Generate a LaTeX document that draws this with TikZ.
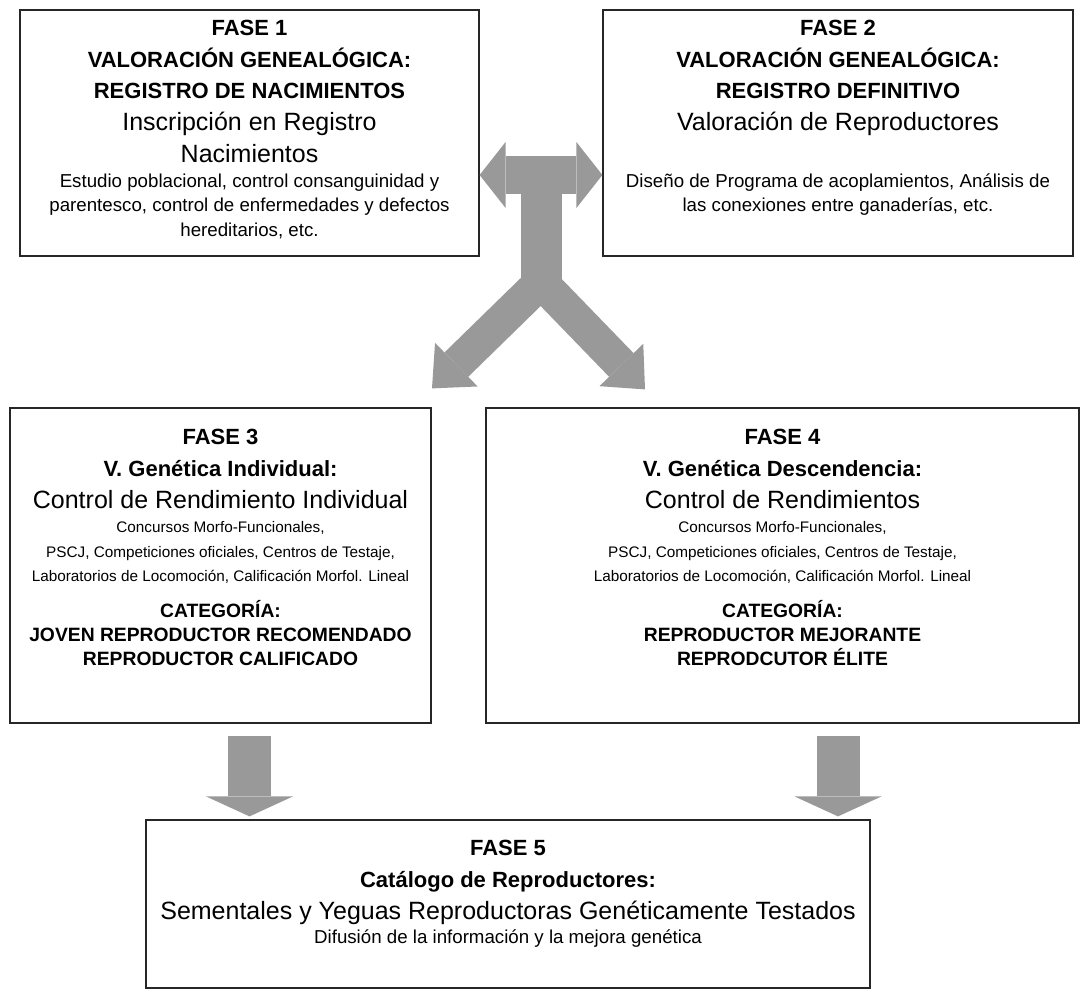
\documentclass[tikz,border=0pt]{standalone}
\usepackage{fontspec}
\setmainfont{Liberation Sans}
\usepackage{tikz}
\usetikzlibrary{arrows.meta,positioning,calc}

\definecolor{flechagris}{RGB}{153,153,153}
\newcommand{\espacios}{\spaceskip=0pt\xspaceskip=0pt\relax}
\newcommand{\fase}[1]{{\fontsize{22}{31.5}\bfseries\selectfont\espacios #1\par}}
\newcommand{\grande}[1]{{\fontsize{25}{32}\selectfont\espacios #1\par}}
\newcommand{\media}[1]{{\fontsize{18.7}{24.5}\selectfont\espacios #1\par}}
\newcommand{\chica}[1]{{\fontsize{15.3}{24.5}\selectfont\espacios #1\par}}
\newcommand{\categ}[1]{{\fontsize{19.3}{24}\bfseries\selectfont\espacios #1\par}}

\begin{document}
\begin{tikzpicture}[x=1pt, y=-1pt,
    caja/.style={draw=black!85, line width=1.2pt, inner sep=0pt},
    texto/.style={inner sep=0pt, align=flush center},
    doble/.style={draw=flechagris, line width=38pt,
      arrows={Triangle[width=66pt,length=26pt,line width=0pt]-Triangle[width=66pt,length=26pt,line width=0pt]}},
    tronco/.style={draw=flechagris, line width=41pt},
    rama/.style={draw=flechagris, line width=34pt,
      arrows={-Triangle[width=61pt,length=34pt,line width=0pt]}},
    baja/.style={draw=flechagris, line width=43pt,
      arrows={-Triangle[width=87pt,length=20pt,line width=0pt]}}]
  \useasboundingbox (0,0) rectangle (1082,990);

  \node[caja, minimum width=459pt, minimum height=246pt] (f1) at (249.5,133) {};
  \node[caja, minimum width=470pt, minimum height=246pt] (f2) at (838,133) {};
  \node[caja, minimum width=421pt, minimum height=315pt] (f3) at (220.5,565.5) {};
  \node[caja, minimum width=593pt, minimum height=315pt] (f4) at (782.5,565.5) {};
  \node[caja, minimum width=724pt, minimum height=168pt] (f5) at (508,904) {};

  \node[texto, text width=450pt, below=11pt of f1.north] (t1) {%
    \fase{FASE 1}\fase{VALORACIÓN GENEALÓGICA:}\fase{REGISTRO DE NACIMIENTOS}%
    \grande{Inscripción en Registro}\grande{Nacimientos}%
    \media{Estudio poblacional, control consanguinidad y}%
    \media{parentesco, control de enfermedades y defectos}%
    \media{hereditarios, etc.}};
  \node[texto, text width=462pt, below=11pt of f2.north] (t2) {%
    \fase{FASE 2}\fase{VALORACIÓN GENEALÓGICA:}\fase{REGISTRO DEFINITIVO}%
    \grande{Valoración de Reproductores}\grande{~}%
    \media{Diseño de Programa de acoplamientos, Análisis de}%
    \media{las conexiones entre ganaderías, etc.}};
  \node[texto, text width=415pt, below=22pt of f3.north] (t3) {%
    \fase{FASE 3}\fase{V. Genética Individual:}%
    \grande{Control de Rendimiento Individual}%
    \chica{Concursos Morfo-Funcionales,}%
    \chica{PSCJ, Competiciones oficiales, Centros de Testaje,}%
    \chica{Laboratorios de Locomoción, Calificación Morfol. Lineal}%
    \vspace{12pt}%
    \categ{CATEGORÍA:}\categ{JOVEN REPRODUCTOR RECOMENDADO}%
    \categ{REPRODUCTOR CALIFICADO}};
  \node[texto, text width=585pt, below=22pt of f4.north] (t4) {%
    \fase{FASE 4}\fase{V. Genética Descendencia:}%
    \grande{Control de Rendimientos}%
    \chica{Concursos Morfo-Funcionales,}%
    \chica{PSCJ, Competiciones oficiales, Centros de Testaje,}%
    \chica{Laboratorios de Locomoción, Calificación Morfol. Lineal}%
    \vspace{12pt}%
    \categ{CATEGORÍA:}\categ{REPRODUCTOR MEJORANTE}%
    \categ{REPRODCUTOR ÉLITE}};
  \node[texto, text width=715pt, below=21pt of f5.north] (t5) {%
    \fase{FASE 5}\fase{Catálogo de Reproductores:}%
    \grande{Sementales y Yeguas Reproductoras Genéticamente Testados}%
    \media{Difusión de la información y la mejora genética}};

  \coordinate (ym) at ($(f1.east)!.5!(f2.west)+(0,42)$);
  \coordinate (yj) at ($(ym)+(0,107)$);
  \draw[doble] ($(f1.east)+(0,42)$) -- ($(f2.west)+(0,42)$);
  \draw[tronco] (ym) -- (yj);
  \draw[rama] (yj) -- ($(f3.north)+(211.5,-19)$);
  \draw[rama] (yj) -- ($(f4.north)+(-137.5,-18)$);
  \draw[baja] ($(f3.south -| f1.south)+(0,12)$) -- ($(f5.north -| f1.south)+(0,-3)$);
  \draw[baja] ($(f4.south -| f2.south)+(0,12)$) -- ($(f5.north -| f2.south)+(0,-3)$);
\end{tikzpicture}
\end{document}
